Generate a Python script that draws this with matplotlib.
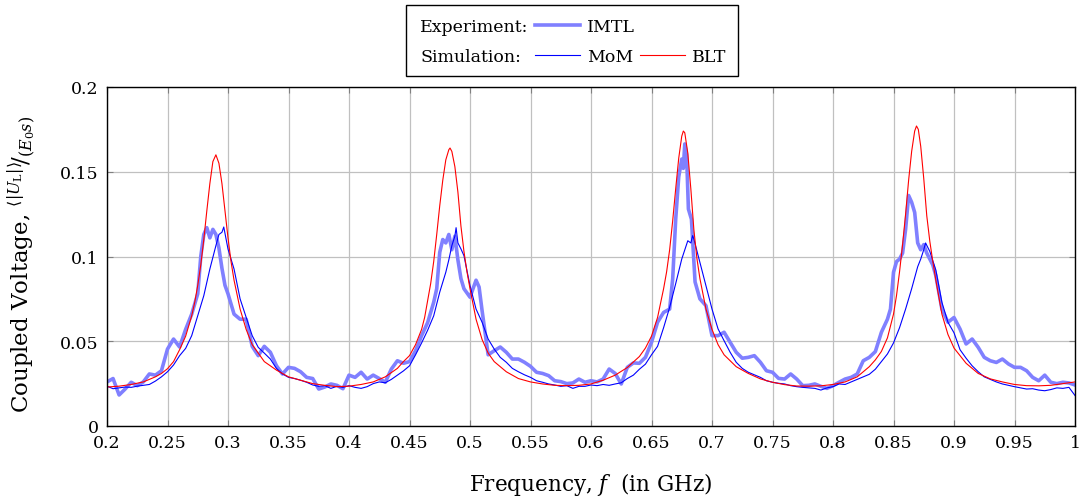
import matplotlib
matplotlib.use("Agg")
import matplotlib.pyplot as plt
from matplotlib.lines import Line2D
from matplotlib.patches import Rectangle

plt.rcParams["font.family"] = ["DejaVu Serif"]
plt.rcParams["mathtext.fontset"] = "dejavuserif"

# experiment (IMTL)
imtl_freq = [
    0.200, 0.205, 0.210, 0.215, 0.220, 0.225, 0.230, 0.235, 0.240, 0.245,
    0.250, 0.255, 0.260, 0.265, 0.270, 0.275, 0.2775, 0.280, 0.2825, 0.285,
    0.2875, 0.290, 0.2925, 0.295, 0.2975, 0.300, 0.305, 0.310, 0.315, 0.320,
    0.325, 0.330, 0.335, 0.340, 0.345, 0.350, 0.355, 0.360, 0.365, 0.370,
    0.375, 0.380, 0.385, 0.390, 0.395, 0.400, 0.405, 0.410, 0.415, 0.420,
    0.425, 0.430, 0.435, 0.440, 0.445, 0.450, 0.455, 0.460, 0.465, 0.470,
    0.4725, 0.475, 0.4775, 0.480, 0.4825, 0.485, 0.4875, 0.490, 0.4925, 0.495,
    0.500, 0.505, 0.5075, 0.510, 0.5125, 0.515, 0.520, 0.525, 0.530, 0.535,
    0.540, 0.545, 0.550, 0.555, 0.560, 0.565, 0.570, 0.575, 0.580, 0.585,
    0.590, 0.595, 0.600, 0.605, 0.610, 0.615, 0.620, 0.625, 0.630, 0.635,
    0.640, 0.645, 0.650, 0.655, 0.660, 0.665, 0.6675, 0.670, 0.6725, 0.675,
    0.6763, 0.6775, 0.679, 0.6805, 0.683, 0.686, 0.690, 0.695, 0.700, 0.705,
    0.710, 0.715, 0.720, 0.725, 0.730, 0.735, 0.740, 0.745, 0.750, 0.755,
    0.760, 0.765, 0.770, 0.775, 0.780, 0.785, 0.790, 0.795, 0.800, 0.805,
    0.810, 0.815, 0.820, 0.825, 0.830, 0.835, 0.840, 0.845, 0.8475, 0.850,
    0.8525, 0.855, 0.8575, 0.860, 0.8625, 0.865, 0.8675, 0.870, 0.8725, 0.875,
    0.8775, 0.880, 0.8825, 0.885, 0.890, 0.895, 0.900, 0.905, 0.910, 0.915,
    0.920, 0.925, 0.930, 0.935, 0.940, 0.945, 0.950, 0.955, 0.960, 0.965,
    0.970, 0.975, 0.980, 0.985, 0.990, 0.995, 1.000,
]
imtl_volt = [
    0.0260, 0.0280, 0.0183, 0.0218, 0.0258, 0.0238, 0.0260, 0.0307, 0.0300, 0.0326,
    0.0454, 0.0513, 0.0466, 0.0570, 0.0660, 0.0780, 0.1000, 0.1130, 0.1170, 0.1110,
    0.1160, 0.1130, 0.1050, 0.0930, 0.0830, 0.0780, 0.0660, 0.0630, 0.0630, 0.0470,
    0.0415, 0.0470, 0.0435, 0.0356, 0.0307, 0.0346, 0.0340, 0.0320, 0.0287, 0.0280,
    0.0218, 0.0230, 0.0248, 0.0240, 0.0220, 0.0300, 0.0287, 0.0317, 0.0277, 0.0300,
    0.0280, 0.0258, 0.0336, 0.0385, 0.0370, 0.0380, 0.0444, 0.0533, 0.0610, 0.0730,
    0.0810, 0.1025, 0.1100, 0.1080, 0.1130, 0.1040, 0.1120, 0.0980, 0.0870, 0.0810,
    0.0760, 0.0860, 0.0820, 0.0680, 0.0550, 0.0420, 0.0444, 0.0466, 0.0435, 0.0395,
    0.0395, 0.0376, 0.0352, 0.0317, 0.0310, 0.0297, 0.0267, 0.0262, 0.0250, 0.0254,
    0.0277, 0.0258, 0.0267, 0.0260, 0.0277, 0.0336, 0.0310, 0.0248, 0.0346, 0.0372,
    0.0370, 0.0405, 0.0494, 0.0612, 0.0670, 0.0690, 0.0867, 0.1220, 0.1470, 0.1575,
    0.1520, 0.1664, 0.1600, 0.1280, 0.1220, 0.0850, 0.0750, 0.0710, 0.0533, 0.0533,
    0.0553, 0.0494, 0.0435, 0.0400, 0.0405, 0.0415, 0.0376, 0.0326, 0.0317, 0.0281,
    0.0277, 0.0307, 0.0277, 0.0238, 0.0240, 0.0248, 0.0234, 0.0222, 0.0238, 0.0258,
    0.0277, 0.0287, 0.0307, 0.0385, 0.0405, 0.0439, 0.0553, 0.0630, 0.0690, 0.0907,
    0.0970, 0.0985, 0.1020, 0.1160, 0.1360, 0.1320, 0.1260, 0.1080, 0.1040, 0.1070,
    0.1020, 0.0985, 0.0950, 0.0887, 0.0690, 0.0612, 0.0640, 0.0572, 0.0484, 0.0513,
    0.0464, 0.0405, 0.0385, 0.0375, 0.0395, 0.0366, 0.0346, 0.0346, 0.0326, 0.0287,
    0.0267, 0.0300, 0.0258, 0.0250, 0.0258, 0.0254, 0.0242,
]

# simulation (MoM)
mom_freq = [
    0.200, 0.205, 0.210, 0.215, 0.220, 0.225, 0.230, 0.235, 0.240, 0.245,
    0.250, 0.255, 0.260, 0.265, 0.270, 0.275, 0.280, 0.285, 0.290, 0.2925,
    0.295, 0.2965, 0.300, 0.305, 0.310, 0.315, 0.320, 0.325, 0.330, 0.335,
    0.340, 0.345, 0.350, 0.355, 0.360, 0.365, 0.370, 0.375, 0.380, 0.385,
    0.390, 0.395, 0.400, 0.405, 0.410, 0.415, 0.420, 0.425, 0.430, 0.435,
    0.440, 0.445, 0.450, 0.455, 0.460, 0.465, 0.470, 0.475, 0.480, 0.4825,
    0.485, 0.4875, 0.4885, 0.490, 0.4925, 0.495, 0.500, 0.505, 0.510, 0.515,
    0.520, 0.525, 0.530, 0.535, 0.540, 0.545, 0.550, 0.555, 0.560, 0.565,
    0.570, 0.575, 0.580, 0.585, 0.590, 0.595, 0.600, 0.605, 0.610, 0.615,
    0.620, 0.625, 0.630, 0.635, 0.640, 0.645, 0.650, 0.655, 0.660, 0.665,
    0.670, 0.675, 0.680, 0.6825, 0.684, 0.685, 0.690, 0.695, 0.700, 0.705,
    0.710, 0.715, 0.720, 0.725, 0.730, 0.735, 0.740, 0.745, 0.750, 0.755,
    0.760, 0.765, 0.770, 0.775, 0.780, 0.785, 0.790, 0.795, 0.800, 0.805,
    0.810, 0.815, 0.820, 0.825, 0.830, 0.835, 0.840, 0.845, 0.850, 0.855,
    0.860, 0.865, 0.870, 0.8725, 0.875, 0.8765, 0.880, 0.885, 0.890, 0.895,
    0.900, 0.905, 0.910, 0.915, 0.920, 0.925, 0.930, 0.935, 0.940, 0.945,
    0.950, 0.955, 0.960, 0.965, 0.970, 0.975, 0.980, 0.985, 0.990, 0.995,
    1.000,
]
mom_volt = [
    0.0235, 0.0220, 0.0225, 0.0230, 0.0228, 0.0235, 0.0240, 0.0245, 0.0265, 0.0290,
    0.0320, 0.0360, 0.0415, 0.0458, 0.0533, 0.0650, 0.0769, 0.0926, 0.1064, 0.1130,
    0.1143, 0.1174, 0.1044, 0.0926, 0.0750, 0.0641, 0.0533, 0.0464, 0.0430, 0.0395,
    0.0340, 0.0307, 0.0287, 0.0280, 0.0270, 0.0258, 0.0242, 0.0234, 0.0238, 0.0222,
    0.0234, 0.0228, 0.0238, 0.0228, 0.0222, 0.0232, 0.0250, 0.0260, 0.0255, 0.0275,
    0.0300, 0.0325, 0.0355, 0.0420, 0.0490, 0.0565, 0.0650, 0.0790, 0.0907, 0.0980,
    0.1064, 0.1120, 0.1170, 0.1080, 0.1045, 0.1005, 0.0828, 0.0690, 0.0612, 0.0513,
    0.0454, 0.0405, 0.0376, 0.0340, 0.0320, 0.0302, 0.0287, 0.0267, 0.0258, 0.0248,
    0.0242, 0.0234, 0.0238, 0.0222, 0.0234, 0.0234, 0.0242, 0.0238, 0.0245, 0.0240,
    0.0248, 0.0255, 0.0280, 0.0300, 0.0335, 0.0365, 0.0420, 0.0470, 0.0580, 0.0700,
    0.0840, 0.0985, 0.1093, 0.1080, 0.1123, 0.1103, 0.0966, 0.0828, 0.0690, 0.0573,
    0.0503, 0.0435, 0.0376, 0.0340, 0.0317, 0.0302, 0.0287, 0.0267, 0.0258, 0.0252,
    0.0248, 0.0238, 0.0232, 0.0228, 0.0225, 0.0222, 0.0212, 0.0225, 0.0232, 0.0248,
    0.0245, 0.0260, 0.0275, 0.0290, 0.0305, 0.0335, 0.0380, 0.0425, 0.0490, 0.0580,
    0.0690, 0.0810, 0.0940, 0.0985, 0.1040, 0.1080, 0.1030, 0.0920, 0.0730, 0.0612,
    0.0550, 0.0450, 0.0400, 0.0355, 0.0320, 0.0290, 0.0275, 0.0260, 0.0248, 0.0240,
    0.0232, 0.0225, 0.0218, 0.0220, 0.0212, 0.0208, 0.0215, 0.0225, 0.0222, 0.0228,
    0.0180,
]

# simulation (BLT)
blt_freq = [
    0.200, 0.210, 0.220, 0.230, 0.240, 0.245, 0.250, 0.255, 0.260, 0.265,
    0.270, 0.2725, 0.275, 0.2775, 0.280, 0.2825, 0.285, 0.2875, 0.290, 0.2925,
    0.295, 0.2975, 0.300, 0.3025, 0.305, 0.310, 0.315, 0.320, 0.330, 0.340,
    0.350, 0.360, 0.370, 0.380, 0.390, 0.400, 0.410, 0.420, 0.430, 0.440,
    0.445, 0.450, 0.455, 0.460, 0.4625, 0.465, 0.4675, 0.470, 0.4725, 0.475,
    0.4775, 0.480, 0.4825, 0.4835, 0.485, 0.4875, 0.490, 0.4925, 0.495, 0.4975,
    0.500, 0.505, 0.510, 0.515, 0.520, 0.530, 0.540, 0.550, 0.560, 0.570,
    0.580, 0.590, 0.600, 0.610, 0.620, 0.630, 0.640, 0.645, 0.650, 0.655,
    0.660, 0.6625, 0.665, 0.6675, 0.670, 0.6725, 0.675, 0.6763, 0.6775, 0.680,
    0.6825, 0.685, 0.6875, 0.690, 0.695, 0.700, 0.705, 0.710, 0.720, 0.730,
    0.740, 0.750, 0.760, 0.770, 0.780, 0.790, 0.800, 0.810, 0.820, 0.830,
    0.835, 0.840, 0.845, 0.850, 0.8525, 0.855, 0.8575, 0.860, 0.8625, 0.865,
    0.8675, 0.869, 0.8705, 0.8725, 0.875, 0.8775, 0.880, 0.8825, 0.885, 0.890,
    0.895, 0.900, 0.910, 0.920, 0.930, 0.940, 0.950, 0.960, 0.970, 0.980,
    0.990, 1.000,
]
blt_volt = [
    0.0230, 0.0235, 0.0245, 0.0260, 0.0290, 0.0310, 0.0338, 0.0380, 0.0450, 0.0530,
    0.0650, 0.0730, 0.0830, 0.0950, 0.1100, 0.1270, 0.1430, 0.1560, 0.1600, 0.1550,
    0.1430, 0.1270, 0.1110, 0.0970, 0.0860, 0.0690, 0.0570, 0.0480, 0.0380, 0.0330,
    0.0290, 0.0270, 0.0250, 0.0240, 0.0232, 0.0235, 0.0245, 0.0260, 0.0290, 0.0340,
    0.0380, 0.0415, 0.0480, 0.0570, 0.0640, 0.0740, 0.0840, 0.0970, 0.1130, 0.1300,
    0.1450, 0.1570, 0.1630, 0.1640, 0.1620, 0.1530, 0.1380, 0.1180, 0.1030, 0.0910,
    0.0810, 0.0630, 0.0510, 0.0430, 0.0380, 0.0320, 0.0280, 0.0260, 0.0248, 0.0240,
    0.0238, 0.0240, 0.0248, 0.0270, 0.0300, 0.0345, 0.0410, 0.0460, 0.0530, 0.0640,
    0.0810, 0.0910, 0.1040, 0.1210, 0.1400, 0.1580, 0.1710, 0.1740, 0.1730, 0.1610,
    0.1400, 0.1160, 0.0990, 0.0870, 0.0690, 0.0570, 0.0480, 0.0420, 0.0350, 0.0310,
    0.0278, 0.0258, 0.0244, 0.0236, 0.0235, 0.0237, 0.0245, 0.0260, 0.0290, 0.0350,
    0.0390, 0.0440, 0.0520, 0.0660, 0.0770, 0.0910, 0.1070, 0.1250, 0.1450, 0.1620,
    0.1740, 0.1770, 0.1750, 0.1650, 0.1460, 0.1240, 0.1090, 0.0970, 0.0860, 0.0660,
    0.0540, 0.0460, 0.0370, 0.0310, 0.0278, 0.0260, 0.0245, 0.0238, 0.0237, 0.0240,
    0.0250, 0.0260,
]

x_ticks = [0.2, 0.25, 0.3, 0.35, 0.4, 0.45, 0.5, 0.55, 0.6, 0.65, 0.7, 0.75, 0.8, 0.85, 0.9, 0.95, 1.0]
x_tick_labels = ["0.2", "0.25", "0.3", "0.35", "0.4", "0.45", "0.5", "0.55", "0.6",
                 "0.65", "0.7", "0.75", "0.8", "0.85", "0.9", "0.95", "1"]
y_ticks = [0, 0.05, 0.1, 0.15, 0.2]
y_tick_labels = ["0", "0.05", "0.1", "0.15", "0.2"]

IMTL_COLOR = "#8080ff"
MOM_COLOR = "#0000ff"
BLT_COLOR = "#ff0000"

W, H = 1081, 502
fig = plt.figure(figsize=(W / 100, H / 100), dpi=100)
ax = fig.add_axes([107 / W, 1 - 427 / H, (1075 - 107) / W, (427 - 88) / H])

ax.plot(imtl_freq, imtl_volt, color=IMTL_COLOR, linewidth=2.6, solid_joinstyle="round")
ax.plot(mom_freq, mom_volt, color=MOM_COLOR, linewidth=0.8)
ax.plot(blt_freq, blt_volt, color=BLT_COLOR, linewidth=0.8)

ax.set_xlim(0.2, 1.0)
ax.set_ylim(0, 0.2)
ax.set_xticks(x_ticks)
ax.set_xticklabels(x_tick_labels)
ax.set_yticks(y_ticks)
ax.set_yticklabels(y_tick_labels)
ax.tick_params(direction="in", top=True, right=True, length=4, width=0.8,
               color="#808080", labelsize=12.5, pad=6)
ax.grid(True, color="#c0c0c0", linewidth=0.9)
ax.set_axisbelow(True)
for spine in ax.spines.values():
    spine.set_linewidth(1.0)

ax.set_xlabel(r"Frequency, $f$  (in GHz)", fontsize=15.5)
ax.xaxis.set_label_coords(0.5, -0.13)
ax.set_ylabel(r"Coupled Voltage, $^{\langle|U_\mathrm{L}|\rangle}\!/_{(E_0 s)}$", fontsize=16.5)
ax.yaxis.set_label_coords(-0.072, 0.478)

# legend box drawn by hand (two rows, grid layout as in pgfplots)
def fx(px):
    return px / W

def fy(py):
    return 1 - py / H

fig.add_artist(Rectangle((fx(406), fy(77)), fx(738) - fx(406), fy(6) - fy(77),
                         transform=fig.transFigure, facecolor="white",
                         edgecolor="black", linewidth=1.0))
leg_fs = 12.5
fig.text(fx(420), fy(32), "Experiment:", fontsize=leg_fs, va="baseline")
fig.text(fx(420), fy(62), "Simulation:", fontsize=leg_fs, va="baseline")
fig.add_artist(Line2D([fx(535), fx(580)], [fy(26), fy(26)], transform=fig.transFigure,
                      color=IMTL_COLOR, linewidth=2.6))
fig.text(fx(587), fy(32), "IMTL", fontsize=leg_fs, va="baseline")
fig.add_artist(Line2D([fx(535), fx(580)], [fy(56), fy(56)], transform=fig.transFigure,
                      color=MOM_COLOR, linewidth=0.8))
fig.text(fx(587), fy(62), "MoM", fontsize=leg_fs, va="baseline")
fig.add_artist(Line2D([fx(640), fx(685)], [fy(56), fy(56)], transform=fig.transFigure,
                      color=BLT_COLOR, linewidth=0.8))
fig.text(fx(692), fy(62), "BLT", fontsize=leg_fs, va="baseline")

fig.savefig("out.png", dpi=100)
